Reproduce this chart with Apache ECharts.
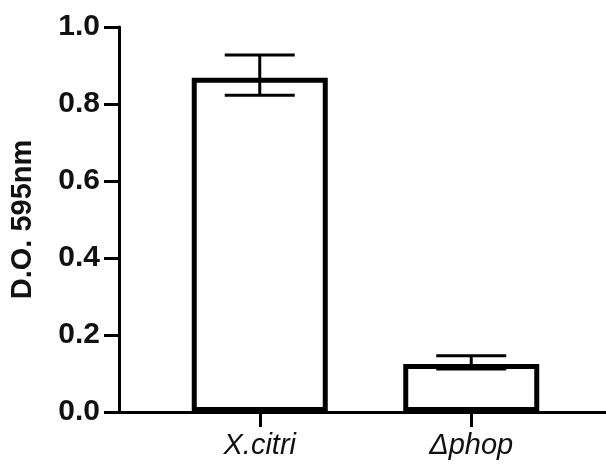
<!DOCTYPE html>
<html>
<head>
    <meta charset="utf-8">
    <title>ECharts</title>
    <script src="https://cdn.jsdelivr.net/npm/echarts@6/dist/echarts.min.js"></script>
</head>
<body style="margin:0">
<div id="main" style="width: 606px;height:466px"></div>
<script type="text/javascript">
    // data
    var strains = ['X.citri', 'Δphop'];
    var od595 = [0.868, 0.125];
    var errLow = [0.823, 0.112];
    var errHigh = [0.927, 0.146];

    var myChart = echarts.init(document.getElementById('main'));

    var errData = strains.map(function (s, i) {
        return [i, errLow[i], errHigh[i]];
    });

    var option = {
        animation: false,
        backgroundColor: '#fff',
        grid: [
            {left: 153, right: 29, top: 27, bottom: 54},
            {left: 118, right: 0, top: 27, bottom: 54}
        ],
        xAxis: [
            {
                type: 'category',
                gridIndex: 0,
                data: strains,
                axisLine: {show: false},
                axisTick: {
                    show: true,
                    alignWithLabel: true,
                    length: 15,
                    lineStyle: {color: '#000', width: 3}
                },
                axisLabel: {
                    color: '#111',
                    fontSize: 29,
                    fontStyle: 'italic',
                    fontFamily: 'Liberation Sans, Arial',
                    margin: 19
                }
            },
            {
                type: 'value',
                gridIndex: 1,
                min: 0,
                max: 1,
                axisLine: {show: true, onZero: false, lineStyle: {color: '#000', width: 3}},
                axisTick: {show: false},
                axisLabel: {show: false},
                splitLine: {show: false}
            }
        ],
        yAxis: [
            {
                type: 'value',
                gridIndex: 0,
                min: 0,
                max: 1,
                interval: 0.2,
                offset: 35,
                name: 'D.O. 595nm',
                nameLocation: 'middle',
                nameGap: 82,
                nameTextStyle: {
                    color: '#111',
                    fontSize: 29,
                    fontWeight: 'bold',
                    fontFamily: 'Liberation Sans, Arial'
                },
                axisLine: {show: true, lineStyle: {color: '#000', width: 3}},
                axisTick: {show: true, length: 15, lineStyle: {color: '#000', width: 3}},
                axisLabel: {
                    color: '#111',
                    fontSize: 30,
                    fontWeight: 'bold',
                    fontFamily: 'Liberation Sans, Arial',
                    margin: 19,
                    formatter: function (v) { return v.toFixed(1); }
                },
                splitLine: {show: false}
            },
            {
                type: 'value',
                gridIndex: 1,
                min: 0,
                max: 1,
                show: false
            }
        ],
        series: [
            {
                type: 'bar',
                xAxisIndex: 0,
                yAxisIndex: 0,
                data: od595,
                barWidth: 136,
                itemStyle: {
                    color: '#fff',
                    borderColor: '#000',
                    borderWidth: 5
                }
            },
            {
                type: 'custom',
                xAxisIndex: 0,
                yAxisIndex: 0,
                data: errData,
                z: 10,
                renderItem: function (params, api) {
                    var lo = api.coord([api.value(0), api.value(1)]);
                    var hi = api.coord([api.value(0), api.value(2)]);
                    var half = 35;
                    var style = {stroke: '#000', lineWidth: 3};
                    return {
                        type: 'group',
                        children: [
                            {type: 'line', shape: {x1: hi[0], y1: hi[1], x2: lo[0], y2: lo[1]}, style: style},
                            {type: 'line', shape: {x1: hi[0] - half, y1: hi[1], x2: hi[0] + half, y2: hi[1]}, style: style},
                            {type: 'line', shape: {x1: lo[0] - half, y1: lo[1], x2: lo[0] + half, y2: lo[1]}, style: style}
                        ]
                    };
                }
            }
        ]
    };

    myChart.setOption(option);
</script>
</body>
</html>
